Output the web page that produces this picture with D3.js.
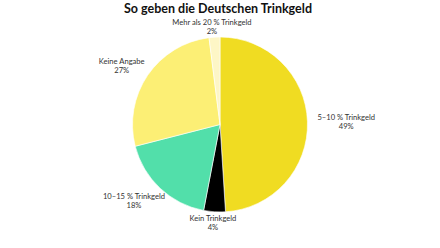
<!DOCTYPE html>
<html>
<head>
<meta charset="utf-8">
<script src="https://cdn.jsdelivr.net/npm/d3@7"></script>
<style>
  body { margin: 0; background: #fff; }
  svg { display: block; }
</style>
</head>
<body>
<svg id="chart" width="440" height="248"></svg>
<script>
var categories = ['5–10 % Trinkgeld', 'Kein Trinkgeld', '10–15 % Trinkgeld', 'Keine Angabe', 'Mehr als 20 % Trinkgeld'];
var values = [49, 4, 18, 27, 2];
var colors = ['#f0dc22', '#000000', '#52dfaa', '#fcef75', '#fdf6c6'];

var width = 440,
    height = 248,
    cx = 220,
    cy = 124.5,
    rad = 87.5;

var svg = d3.select('#chart');

svg.append('text')
    .attr('x', 218)
    .attr('y', 12.5)
    .attr('text-anchor', 'middle')
    .style('font-family', 'Lato, sans-serif')
    .style('font-weight', 'bold')
    .style('font-size', '12.5px')
    .attr('fill', '#111')
    .text('So geben die Deutschen Trinkgeld');

var pie = d3.pie().sort(null).value(function(d){ return d; });
var arc = d3.arc().innerRadius(0).outerRadius(rad);
var arcs = pie(values);

var g = svg.append('g')
    .attr('transform', 'translate(' + cx + ', ' + cy + ')');

g.selectAll('path')
    .data(arcs)
    .enter().append('path')
    .attr('d', arc)
    .attr('fill', function(d, i){ return colors[i]; })
    .attr('stroke', '#fff')
    .attr('stroke-width', 0.6);

var lineH = 9;
var labels = g.selectAll('text.lbl')
    .data(arcs)
    .enter().append('text')
    .attr('class', 'lbl')
    .style('font-family', 'Lato, sans-serif')
    .style('font-size', '7.6px')
    .attr('fill', '#333')
    .attr('text-anchor', 'middle');

labels.append('tspan').text(function(d, i){ return categories[i]; });
labels.append('tspan').text(function(d, i){ return values[i] + '%'; });

// place each two-line block just outside its slice, pushed away from the pie
function layout() {
    labels.each(function(d){
        var t = d3.select(this),
            mid = (d.startAngle + d.endAngle) / 2,
            s = Math.sin(mid),
            c = Math.cos(mid),
            off = 1 + 9 * Math.abs(s),
            ax = (rad + off) * s,
            ay = -(rad + off) * c;

        t.selectAll('tspan')
            .attr('x', 0)
            .attr('y', function(_, j){ return j * lineH; });

        var w = this.getBBox().width,
            h = lineH * 2,
            left = ax - w * (1 - s) / 2,
            top = ay - h * (1 + c) / 2;

        t.selectAll('tspan')
            .attr('x', left + w / 2)
            .attr('y', function(_, j){ return top + 7.5 + j * lineH; });
    });
}

layout();
if (document.fonts) {
    document.fonts.ready.then(layout);
}
</script>
</body>
</html>
